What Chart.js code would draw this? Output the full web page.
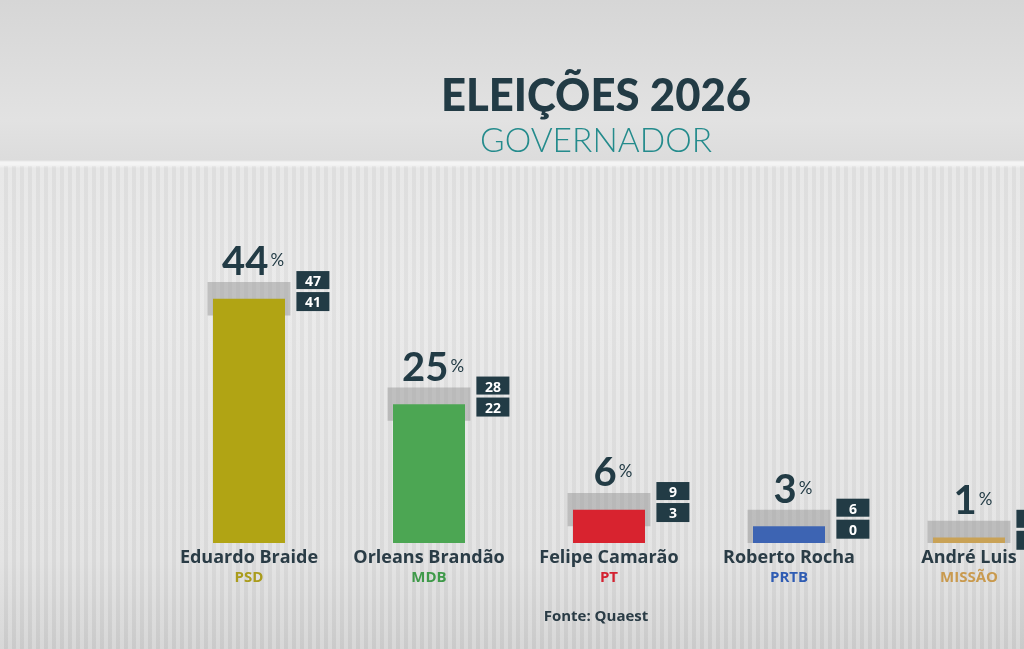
<!DOCTYPE html>
<html>
<head>
<meta charset="utf-8">
<script src="https://cdn.jsdelivr.net/npm/chart.js@4"></script>
<style>
  html, body { margin: 0; padding: 0; width: 1024px; height: 649px; overflow: hidden; }
  body {
    background:
      linear-gradient(180deg, #d6d6d6 0px, #e2e2e2 120px, #dcdcdc 160px, #f4f4f4 162px, #f4f4f4 165px, #e3e3e3 168px, #e6e6e6 300px, #dedede 560px, #cfcfcf 649px);
  }
  .stripes {
    position: absolute; left: 0; top: 166px; width: 1024px; height: 483px;
    background: repeating-linear-gradient(90deg, rgba(255,255,255,0.18) 0 4px, rgba(0,0,0,0.025) 4px 8px);
  }
  #wrap { position: absolute; left: 0; top: 0; width: 1070px; height: 649px; }
</style>
</head>
<body>
<div class="stripes"></div>
<div id="wrap"><canvas id="chart" width="1070" height="649"></canvas></div>
<script>
// ── Data (Quaest, governador 2026)
const candidates = ['Eduardo Braide', 'Orleans Brandão', 'Felipe Camarão', 'Roberto Rocha', 'André Luis'];
const parties = ['PSD', 'MDB', 'PT', 'PRTB', 'MISSÃO'];
const values = [44, 25, 6, 3, 1];
const highs = [47, 28, 9, 6, 4];
const lows = [41, 22, 3, 0, 0];

const barColors = ['#b1a414', '#4ca653', '#d8232f', '#3d64b3', '#c9a256'];
const partyColors = ['#aa9c1c', '#3f9a4a', '#d42231', '#2f5cb3', '#c99a4e'];
const DARK = '#223b45';
const SANS = '"Open Sans", Lato, sans-serif';

// ── Overlay: title, value labels, range boxes, names
const overlay = {
  id: 'overlay',
  afterDatasetsDraw(chart) {
    const { ctx, scales: { x, y } } = chart;
    ctx.save();
    ctx.textAlign = 'center';
    ctx.textBaseline = 'alphabetic';

    ctx.fillStyle = DARK;
    ctx.font = '900 46px Lato, "Open Sans", sans-serif';
    ctx.fillText('ELEIÇÕES 2026', 596, 111, 310);
    ctx.fillStyle = '#248b8c';
    ctx.font = '300 34px Lato, "Open Sans", sans-serif';
    ctx.fillText('GOVERNADOR', 596, 152, 232);

    const bandMeta = chart.getDatasetMeta(1);
    candidates.forEach((name, i) => {
      const cx = x.getPixelForValue(i);
      const top = y.getPixelForValue(highs[i]);
      const band = bandMeta.data[i];
      const right = band.x + band.width / 2;

      // value + %
      ctx.font = 'bold 40px Lato, "Open Sans", sans-serif';
      const num = String(values[i]);
      const nw = ctx.measureText(num).width;
      ctx.font = '17px Lato, "Open Sans", sans-serif';
      const pw = ctx.measureText('%').width;
      const start = cx + 4 - (nw + 2 + pw) / 2;
      ctx.textAlign = 'left';
      ctx.fillStyle = DARK;
      ctx.font = 'bold 40px Lato, "Open Sans", sans-serif';
      ctx.fillText(num, start, top - 7);
      ctx.font = '17px Lato, "Open Sans", sans-serif';
      ctx.fillText('%', start + nw + 2, top - 16);

      // high / low boxes
      const bx = right + 6;
      ctx.fillStyle = DARK;
      ctx.fillRect(bx, top - 11, 33, 18);
      ctx.fillRect(bx, top + 10, 33, 19);
      ctx.fillStyle = '#ffffff';
      ctx.textAlign = 'center';
      ctx.font = 'bold 14px ' + SANS;
      ctx.fillText(String(highs[i]), bx + 16.5, top + 4);
      ctx.fillText(String(lows[i]), bx + 16.5, top + 25);

      // name + party
      ctx.fillStyle = '#2a3c46';
      ctx.font = 'bold 18px ' + SANS;
      ctx.fillText(name, cx, 563);
      ctx.fillStyle = partyColors[i];
      ctx.font = 'bold 15px ' + SANS;
      ctx.fillText(parties[i], cx, 582);
    });

    ctx.fillStyle = '#2a3c46';
    ctx.font = 'bold 15px ' + SANS;
    ctx.fillText('Fonte: Quaest', 596, 621);
    ctx.restore();
  }
};

new Chart(document.getElementById('chart'), {
  type: 'bar',
  data: {
    labels: candidates,
    datasets: [
      {
        data: values,
        backgroundColor: barColors,
        barPercentage: 0.40,
        categoryPercentage: 1,
        grouped: false,
        order: 1,
        borderWidth: 0,
      },
      {
        data: candidates.map((_, i) => [lows[i], highs[i]]),
        backgroundColor: 'rgba(150,150,150,0.5)',
        barPercentage: 0.46,
        categoryPercentage: 1,
        grouped: false,
        order: 2,
        borderWidth: 0,
      }
    ]
  },
  options: {
    responsive: false,
    animation: false,
    layout: { padding: { left: 159, right: 11, top: 221, bottom: 106 } },
    scales: {
      x: { display: false },
      y: { display: false, min: 0, max: 58 }
    },
    plugins: { legend: { display: false }, tooltip: { enabled: false } }
  },
  plugins: [overlay]
});
</script>
</body>
</html>
